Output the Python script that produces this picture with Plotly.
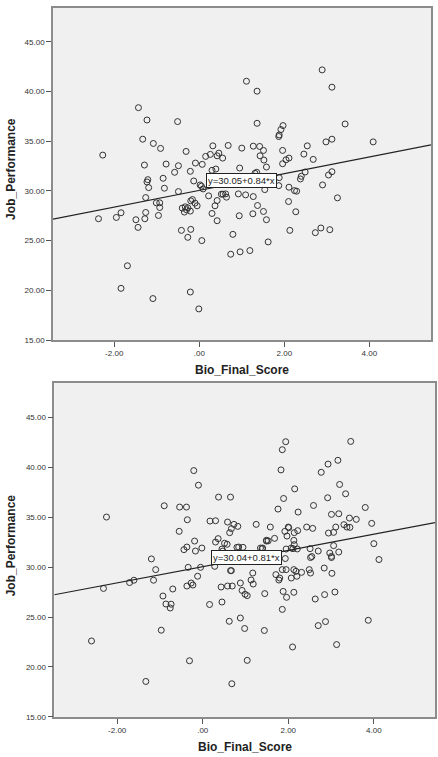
import plotly.graph_objects as go

# ---------------- data ----------------
# Top panel
x_top = [-2.27, -1.43, -1.23, -1.33, -1.08, -0.91, -0.51, -0.31, -1.29, -0.78, -0.49, -0.58, -0.21, -0.09,
         0.07, -0.85, -1.21, -1.23, 0.15, 0.26, 0.32, 0.39, 0.30, 0.46, 0.42, 0.55, 0.68, 0.95, 1.00, 1.11,
         1.36, 1.36, 1.27, 1.42, 1.51, 1.43, 1.52, 1.58, 1.35, 1.31, 1.87, 1.88, 1.92, 1.97, 1.96, 1.96,
         2.04, 2.11, 2.46, 2.54, 2.68, 2.49, 2.40, 2.89, 3.12, 3.43, 2.98, 3.12, 3.12, 3.04, 4.09, 1.88,
         -2.37, -1.95, -1.84, -1.49, -1.44, -1.26, -1.26, -1.28, -1.19, -1.01, -0.93, -0.93, -0.96, -0.82,
         -0.49, -0.40, -0.35, -0.33, -0.30, -0.27, -0.21, -0.16, -0.20, -0.10, -0.05, -0.42, -0.20, -0.27,
         0.06, -1.69, -1.84, -1.09, -0.21, -0.01, 0.05, 0.02, 0.09, -0.13, 0.22, 0.30, 0.37, 0.42, 0.42,
         0.52, 0.56, 0.64, 0.62, 0.92, 0.94, 1.09, 1.27, 1.26, 1.37, 1.51, 1.58, 1.54, 0.79, 0.74, 0.96,
         1.19, 1.62, 1.87, 2.11, 2.10, 2.24, 2.29, 2.27, 2.13, 2.90, 3.25, 2.73, 2.86, 3.07, 2.38]
y_top = [33.60, 38.37, 37.13, 35.20, 34.77, 34.27, 36.97, 33.97, 32.60, 32.70, 32.53, 31.87, 31.97, 32.80,
         32.67, 31.27, 31.13, 30.90, 33.47, 33.67, 34.53, 32.20, 32.07, 33.80, 33.53, 33.30, 34.57, 32.30,
         34.30, 41.03, 40.03, 36.80, 34.50, 34.47, 34.07, 33.53, 33.10, 32.40, 31.87, 31.77, 35.47, 35.63,
         36.17, 36.57, 34.07, 32.73, 33.13, 33.30, 33.70, 34.53, 33.17, 31.90, 31.47, 42.17, 40.43, 36.73,
         34.93, 35.20, 31.93, 31.60, 34.93, 31.33,
         27.20, 27.33, 27.80, 27.10, 26.33, 29.33, 27.83, 27.20, 30.33, 28.80, 28.80, 28.33, 27.53, 30.27,
         29.93, 28.27, 27.87, 28.40, 28.10, 28.30, 27.97, 29.13, 29.00, 28.77, 28.50, 26.03, 26.13, 25.33,
         25.00, 22.47, 20.20, 19.17, 19.83, 18.13, 30.47, 30.60, 30.20, 31.00, 29.50, 27.73, 28.50, 29.03,
         27.00, 29.67, 29.67, 29.37, 29.70, 29.70, 27.50, 29.60, 29.43, 27.70, 28.53, 27.93, 27.10, 30.13,
         25.63, 23.63, 23.87, 24.00, 24.87, 30.53, 30.37, 28.93, 30.03, 29.97, 27.90, 26.03, 30.60, 29.30,
         25.80, 26.27, 26.10, 31.20]

# Bottom panel
x_bot = [-2.25, -1.20, -0.90, -0.54, -0.38, -0.36, -0.55, -0.21, -0.10, -0.19, -0.37, -0.44, -0.17, -0.02,
         0.17, 0.30, 0.37, 0.65, 0.58, 0.73, 0.82, 0.67, 0.63, 0.36, 0.30, 0.51, 0.57, 0.45, 0.47, 0.80,
         0.84, 0.94, 1.25, 1.58, 1.49, 1.53, 1.68, 1.35, 1.40, 1.94, 1.86, 1.83, 2.15, 1.89, 1.76, 2.23,
         2.00, 1.92, 1.97, 2.14, 2.22, 2.13, 2.14, 2.11, 2.21, 1.95, 2.07, 2.43, 2.57, 2.59, 2.77, 2.93,
         3.16, 2.92, 3.20, 3.34, 3.46, 3.01, 3.18, 2.94, 3.06, 3.11, 3.30, 3.37, 3.44, 3.43, 3.59, 3.80,
         3.95, 4.00, 4.12, 2.51, 2.70, 2.55, 3.06, 2.97, 3.01, 3.18, 1.93, 1.39, 1.49, 2.01,
         -2.60, -2.32, -1.71, -1.61, -1.10, -1.15, -0.93, -0.86, -0.76, -0.74, -0.70, -0.97, -1.33, -0.31,
         -0.34, -0.05, -0.12, -0.37, -0.27, -0.23, 0.16, 0.28, 0.43, 0.45, 0.58, 0.69, 0.65, 0.67, 0.62,
         0.88, 0.92, 0.99, 1.04, 1.13, 1.17, 1.18, 0.88, 0.98, 1.04, 0.68, 1.45, 1.44, 1.71, 1.78, 1.80,
         1.86, 1.95, 1.88, 1.96, 1.86, 2.07, 2.13, 2.18, 2.20, 2.31, 2.13, 2.10, 2.49, 2.52, 2.52, 2.63,
         2.70, 2.84, 3.02, 2.85, 2.87, 3.09, 3.13, 3.01, 3.87]
y_bot = [35.00, 30.81, 36.13, 36.00, 36.00, 34.73, 33.57, 39.65, 38.19, 32.60, 32.00, 31.74, 31.60, 31.90,
         34.60, 34.63, 37.00, 37.00, 34.50, 34.27, 34.07, 33.84, 33.44, 32.84, 32.50, 32.38, 32.28, 31.80,
         31.60, 31.97, 32.00, 31.97, 34.27, 34.00, 32.60, 32.62, 32.87, 31.90, 31.90, 42.54, 41.74, 39.72,
         37.82, 36.86, 35.80, 35.50, 34.00, 33.57, 33.10, 33.44, 33.64, 32.67, 32.24, 31.84, 31.81, 31.80,
         31.90, 34.00, 33.87, 36.16, 39.48, 40.30, 40.68, 36.93, 38.26, 37.33, 42.57, 35.27, 35.33, 33.40,
         33.47, 34.00, 34.24, 34.00, 33.97, 34.90, 34.77, 35.96, 34.37, 32.34, 30.75, 31.84, 31.60, 31.05,
         32.14, 31.40, 31.07, 31.50, 30.85, 31.83, 32.68, 33.94,
         22.60, 27.86, 28.45, 28.68, 29.74, 28.68, 27.10, 26.30, 25.90, 26.28, 27.80, 23.68, 18.55, 20.62,
         29.97, 29.97, 29.08, 28.10, 28.40, 28.20, 26.25, 30.07, 28.00, 26.50, 28.10, 28.10, 29.64, 29.64,
         24.57, 28.40, 27.66, 27.27, 27.14, 28.70, 29.40, 28.30, 24.90, 23.85, 20.66, 18.32, 27.34, 23.65,
         29.24, 28.70, 28.90, 29.74, 29.74, 27.56, 26.97, 25.76, 28.90, 29.74, 29.57, 29.08, 29.47, 27.47,
         22.00, 29.74, 29.40, 30.95, 26.80, 24.14, 29.90, 29.37, 27.24, 24.54, 27.50, 22.24, 30.95, 24.67]

fit_top = {"intercept": 30.05, "slope": 0.84}
fit_bot = {"intercept": 30.04, "slope": 0.81}

x_tickvals = [-2, 0, 2, 4]
x_ticktext = ["-2.00", ".00", "2.00", "4.00"]
y_tickvals = [15, 20, 25, 30, 35, 40, 45]
y_ticktext = ["15.00", "20.00", "25.00", "30.00", "35.00", "40.00", "45.00"]

x_title = "Bio_Final_Score"
y_title = "Job_Performance"

# ---------------- figure ----------------
W, H = 438, 757
FONT = "Liberation Sans, Arial, sans-serif"

xr_top = [-3.44, 5.45]
xr_bot = [-3.47, 5.43]
yr = [15, 48.4]

fig = go.Figure()

marker = dict(symbol="circle-open", size=6, color="#333333", line=dict(width=1, color="#333333"))

fig.add_trace(go.Scatter(x=x_top, y=y_top, mode="markers", marker=marker, xaxis="x", yaxis="y",
                         showlegend=False, hoverinfo="x+y"))
fig.add_trace(go.Scatter(x=x_bot, y=y_bot, mode="markers", marker=marker, xaxis="x2", yaxis="y2",
                         showlegend=False, hoverinfo="x+y"))

for fit, xr, xa, ya in [(fit_top, xr_top, "x", "y"), (fit_bot, xr_bot, "x2", "y2")]:
    lx = list(xr)
    ly = [fit["intercept"] + fit["slope"] * v for v in lx]
    fig.add_trace(go.Scatter(x=lx, y=ly, mode="lines", line=dict(color="#222222", width=1.2),
                             xaxis=xa, yaxis=ya, showlegend=False, hoverinfo="skip"))

axis_common = dict(
    showgrid=False, zeroline=False, showline=True, linecolor="#8c8c8c", linewidth=1.5, mirror=True,
    ticks="outside", ticklen=5, tickcolor="#555555", tickwidth=1,
    tickfont=dict(family=FONT, size=8, color="#333333"),
)

fig.update_layout(
    width=W, height=H,
    margin=dict(l=0, r=0, t=0, b=0),
    paper_bgcolor="white",
    plot_bgcolor="#f0f0f0",
    xaxis=dict(domain=[53 / W, 431 / W], range=xr_top, tickvals=x_tickvals, ticktext=x_ticktext,
               anchor="y", **axis_common),
    yaxis=dict(domain=[1 - 342.3 / H, 1 - 8 / H], range=yr, tickvals=y_tickvals, ticktext=y_ticktext,
               anchor="x", **axis_common),
    xaxis2=dict(domain=[54.3 / W, 435 / W], range=xr_bot, tickvals=x_tickvals, ticktext=x_ticktext,
                anchor="y2", **axis_common),
    yaxis2=dict(domain=[1 - 721.7 / H, 1 - 385.7 / H], range=yr, tickvals=y_tickvals, ticktext=y_ticktext,
                anchor="x2", **axis_common),
)

title_font = dict(family=FONT, size=12, color="#222222")
annots = []
# axis titles
annots.append(dict(text="<b>%s</b>" % x_title, xref="paper", yref="paper", x=242 / W, y=1 - 372.7 / H,
                   xanchor="center", yanchor="middle", showarrow=False, font=title_font))
annots.append(dict(text="<b>%s</b>" % x_title, xref="paper", yref="paper", x=245 / W, y=1 - 751.5 / H,
                   xanchor="center", yanchor="middle", showarrow=False, font=title_font))
annots.append(dict(text="<b>%s</b>" % y_title, xref="paper", yref="paper", x=11 / W, y=1 - 170 / H,
                   xanchor="center", yanchor="middle", showarrow=False, textangle=-90, font=title_font))
annots.append(dict(text="<b>%s</b>" % y_title, xref="paper", yref="paper", x=11 / W, y=1 - 549 / H,
                   xanchor="center", yanchor="middle", showarrow=False, textangle=-90, font=title_font))
# fit labels
for fit, xa, ya, px, py in [(fit_top, "x", "y", 1.0, 31.07), (fit_bot, "x2", "y2", 1.03, 30.92)]:
    annots.append(dict(text="y=%.2f+%.2f*x" % (fit["intercept"], fit["slope"]), xref=xa, yref=ya,
                       x=px, y=py, xanchor="center", yanchor="middle", showarrow=False,
                       bgcolor="white", bordercolor="#222222", borderwidth=1, borderpad=1,
                       font=dict(family=FONT, size=9.5, color="#222222")))
fig.update_layout(annotations=annots)

fig.write_html("out.html")
